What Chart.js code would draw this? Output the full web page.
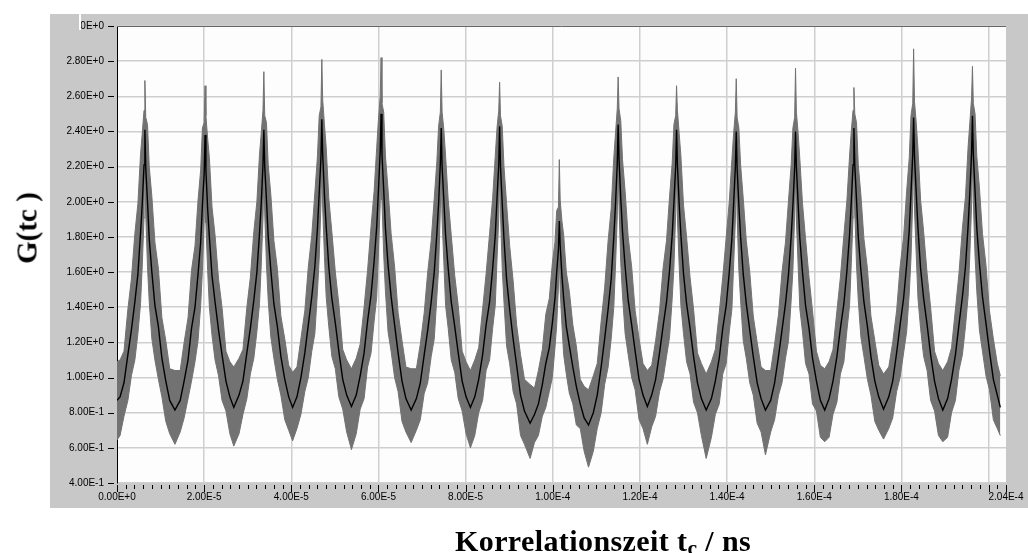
<!DOCTYPE html>
<html>
<head>
<meta charset="utf-8">
<script src="https://cdn.jsdelivr.net/npm/chart.js@4.4.1/dist/chart.umd.min.js"></script>
<style>
  html, body { margin: 0; padding: 0; background: #fff; }
  #wrap { position: relative; width: 1028px; height: 553px; overflow: hidden; }
  #korr { position: absolute; left: 0; top: 0; }
  .axis-title {
    position: absolute;
    font-family: "Liberation Serif", "Times New Roman", serif;
    font-weight: bold;
    font-size: 29px;
    line-height: 29px;
    white-space: nowrap;
    color: #000;
  }
  #title-y { left: 27px; top: 228px; transform: translate(-50%, -50%) rotate(-90deg); }
  #title-x { left: 455px; top: 526px; font-size: 30px; letter-spacing: 0.4px; }
  #title-x sub { font-size: 0.72em; vertical-align: -0.2em; line-height: 0; }
</style>
</head>
<body>
<div id="wrap">
  <canvas id="korr" width="1028" height="553"></canvas>
  <div class="axis-title" id="title-y">G(tc )</div>
  <div class="axis-title" id="title-x">Korrelationszeit t<sub>c</sub> / ns</div>
</div>
<script>
// correlation time in microseconds (tick labels are written in seconds)
const tc = [
  0.0, 0.7, 1.6, 2.5, 3.3, 4.1, 4.8, 5.4, 5.8, 6.2, 6.4, 6.6, 7.0, 7.4, 8.0, 8.7, 9.5, 10.3, 11.2, 12.1, 13.3,
  14.5, 15.4, 16.3, 17.1, 17.9, 18.6, 19.2, 19.6, 20.0, 20.2, 20.4, 20.8, 21.2, 21.8, 22.5, 23.3, 24.1, 25.0, 25.9, 26.8,
  28.0, 28.9, 29.8, 30.6, 31.4, 32.1, 32.7, 33.1, 33.5, 33.7, 33.9, 34.3, 34.7, 35.3, 36.0, 36.8, 37.6, 38.5, 39.4, 40.3,
  41.3, 42.2, 43.1, 43.9, 44.7, 45.4, 46.0, 46.4, 46.8, 47.0, 47.2, 47.6, 48.0, 48.6, 49.3, 50.1, 50.9, 51.8, 52.7, 53.8,
  54.9, 55.8, 56.7, 57.5, 58.3, 59.0, 59.6, 60.0, 60.4, 60.6, 60.8, 61.2, 61.6, 62.2, 62.9, 63.7, 64.5, 65.4, 66.3, 67.5,
  68.7, 69.6, 70.5, 71.3, 72.1, 72.8, 73.4, 73.8, 74.2, 74.4, 74.6, 75.0, 75.4, 76.0, 76.7, 77.5, 78.3, 79.2, 80.1, 81.1,
  82.1, 83.0, 83.9, 84.7, 85.5, 86.2, 86.8, 87.2, 87.6, 87.8, 88.0, 88.4, 88.8, 89.4, 90.1, 90.9, 91.7, 92.6, 93.5, 94.8,
  95.8, 96.7, 97.6, 98.4, 99.2, 99.9, 100.5, 100.9, 101.3, 101.5, 101.7, 102.1, 102.5, 103.1, 103.8, 104.6, 105.4, 106.3, 107.2, 108.2,
  109.3, 110.2, 111.1, 111.9, 112.7, 113.4, 114.0, 114.4, 114.8, 115.0, 115.2, 115.6, 116.0, 116.6, 117.3, 118.1, 118.9, 119.8, 120.7, 121.7,
  122.7, 123.6, 124.5, 125.3, 126.1, 126.8, 127.4, 127.8, 128.2, 128.4, 128.6, 129.0, 129.4, 130.0, 130.7, 131.5, 132.3, 133.2, 134.1, 135.2,
  136.4, 137.3, 138.2, 139.0, 139.8, 140.5, 141.1, 141.5, 141.9, 142.1, 142.3, 142.7, 143.1, 143.7, 144.4, 145.2, 146.0, 146.9, 147.8, 148.8,
  150.0, 150.9, 151.8, 152.6, 153.4, 154.1, 154.7, 155.1, 155.5, 155.7, 155.9, 156.3, 156.7, 157.3, 158.0, 158.8, 159.6, 160.5, 161.4, 162.4,
  163.4, 164.3, 165.2, 166.0, 166.8, 167.5, 168.1, 168.5, 168.9, 169.1, 169.3, 169.7, 170.1, 170.7, 171.4, 172.2, 173.0, 173.9, 174.8, 175.9,
  177.1, 178.0, 178.9, 179.7, 180.5, 181.2, 181.8, 182.2, 182.6, 182.8, 183.0, 183.4, 183.8, 184.4, 185.1, 185.9, 186.7, 187.6, 188.5, 189.5,
  190.6, 191.5, 192.4, 193.2, 194.0, 194.7, 195.3, 195.7, 196.1, 196.3, 196.5, 196.9, 197.3, 197.9, 198.6, 199.4, 200.2, 201.1, 202.0, 202.7
]

// averaged curve (black)
const gMean = [
  0.87, 0.89, 0.97, 1.13, 1.27, 1.43, 1.59, 1.82, 1.99, 2.21, 2.41, 2.19, 2.00, 1.79, 1.60, 1.41, 1.29, 1.11, 0.98, 0.87, 0.815,
  0.87, 0.98, 1.10, 1.28, 1.40, 1.59, 1.77, 1.98, 2.16, 2.38, 2.18, 1.96, 1.80, 1.58, 1.43, 1.27, 1.13, 0.98, 0.89, 0.83,
  0.90, 0.98, 1.14, 1.28, 1.44, 1.60, 1.82, 1.99, 2.21, 2.41, 2.20, 2.01, 1.80, 1.61, 1.42, 1.29, 1.12, 0.99, 0.89, 0.83,
  0.89, 1.00, 1.14, 1.30, 1.46, 1.63, 1.85, 2.05, 2.25, 2.47, 2.27, 2.04, 1.86, 1.63, 1.45, 1.31, 1.15, 0.99, 0.90, 0.835,
  0.90, 1.01, 1.14, 1.32, 1.47, 1.66, 1.86, 2.07, 2.29, 2.50, 2.27, 2.07, 1.85, 1.64, 1.46, 1.30, 1.14, 0.98, 0.88, 0.815,
  0.88, 0.97, 1.13, 1.27, 1.43, 1.60, 1.82, 1.99, 2.22, 2.42, 2.20, 2.01, 1.81, 1.62, 1.43, 1.29, 1.14, 0.98, 0.89, 0.83,
  0.89, 0.99, 1.13, 1.30, 1.43, 1.62, 1.81, 2.02, 2.21, 2.43, 2.20, 1.99, 1.79, 1.56, 1.39, 1.22, 1.07, 0.90, 0.81, 0.74,
  0.79, 0.85, 0.96, 1.08, 1.17, 1.31, 1.45, 1.60, 1.73, 1.89, 1.75, 1.58, 1.45, 1.29, 1.18, 1.06, 0.95, 0.85, 0.77, 0.73,
  0.80, 0.90, 1.06, 1.22, 1.39, 1.56, 1.80, 1.99, 2.22, 2.44, 2.24, 2.02, 1.83, 1.63, 1.44, 1.30, 1.15, 0.99, 0.90, 0.835,
  0.90, 0.99, 1.14, 1.29, 1.43, 1.61, 1.81, 2.00, 2.20, 2.41, 2.21, 1.99, 1.81, 1.59, 1.42, 1.28, 1.12, 0.97, 0.88, 0.815,
  0.88, 0.98, 1.11, 1.28, 1.41, 1.60, 1.79, 1.99, 2.20, 2.40, 2.19, 1.98, 1.80, 1.59, 1.42, 1.27, 1.12, 0.97, 0.88, 0.815,
  0.87, 0.97, 1.12, 1.27, 1.42, 1.59, 1.80, 1.98, 2.19, 2.40, 2.20, 1.99, 1.79, 1.60, 1.41, 1.28, 1.11, 0.98, 0.87, 0.815,
  0.88, 0.98, 1.12, 1.28, 1.42, 1.61, 1.81, 2.00, 2.21, 2.42, 2.21, 2.01, 1.80, 1.61, 1.43, 1.29, 1.12, 0.98, 0.89, 0.82,
  0.89, 0.98, 1.14, 1.30, 1.45, 1.64, 1.84, 2.05, 2.27, 2.48, 2.26, 2.05, 1.85, 1.62, 1.45, 1.30, 1.13, 0.98, 0.88, 0.815,
  0.88, 0.99, 1.13, 1.30, 1.46, 1.63, 1.86, 2.05, 2.28, 2.49, 2.27, 2.06, 1.85, 1.65, 1.46, 1.31, 1.15, 0.99, 0.90, 0.83
]

// upper edge of the raw data (grey)
const gHigh = [
  1.09, 1.10, 1.15, 1.39, 1.56, 1.82, 1.99, 2.27, 2.39, 2.52, 2.69, 2.48, 2.44, 2.20, 2.03, 1.77, 1.62, 1.34, 1.21, 1.05, 1.04,
  1.04, 1.20, 1.34, 1.61, 1.75, 2.01, 2.18, 2.42, 2.45, 2.66, 2.49, 2.36, 2.25, 1.97, 1.81, 1.56, 1.40, 1.15, 1.09, 1.06,
  1.11, 1.16, 1.40, 1.57, 1.83, 2.00, 2.27, 2.39, 2.52, 2.74, 2.49, 2.45, 2.21, 2.04, 1.78, 1.62, 1.35, 1.22, 1.07, 1.03,
  1.06, 1.22, 1.38, 1.63, 1.81, 2.05, 2.26, 2.49, 2.54, 2.81, 2.58, 2.44, 2.31, 2.02, 1.83, 1.60, 1.42, 1.16, 1.10, 1.05,
  1.11, 1.19, 1.40, 1.61, 1.86, 2.06, 2.31, 2.47, 2.60, 2.82, 2.56, 2.51, 2.26, 2.07, 1.82, 1.63, 1.37, 1.21, 1.06, 1.05,
  1.05, 1.19, 1.37, 1.60, 1.78, 2.02, 2.23, 2.43, 2.51, 2.75, 2.51, 2.41, 2.26, 2.01, 1.81, 1.58, 1.41, 1.15, 1.09, 1.04,
  1.10, 1.17, 1.39, 1.59, 1.82, 2.02, 2.26, 2.42, 2.52, 2.68, 2.49, 2.43, 2.20, 1.99, 1.75, 1.55, 1.30, 1.13, 0.99, 0.96,
  0.94, 1.04, 1.16, 1.36, 1.45, 1.65, 1.77, 1.95, 1.97, 2.24, 2.01, 1.89, 1.81, 1.60, 1.49, 1.30, 1.18, 0.99, 0.95, 0.93,
  1.01, 1.08, 1.32, 1.51, 1.78, 1.96, 2.25, 2.39, 2.53, 2.71, 2.53, 2.46, 2.24, 2.06, 1.80, 1.63, 1.38, 1.22, 1.08, 1.04,
  1.07, 1.21, 1.38, 1.62, 1.78, 2.03, 2.22, 2.44, 2.49, 2.66, 2.52, 2.39, 2.26, 1.98, 1.80, 1.57, 1.39, 1.14, 1.08, 1.02,
  1.09, 1.16, 1.37, 1.57, 1.80, 2.00, 2.24, 2.39, 2.51, 2.70, 2.48, 2.42, 2.21, 2.02, 1.78, 1.60, 1.35, 1.20, 1.06, 1.04,
  1.04, 1.19, 1.36, 1.60, 1.77, 2.01, 2.21, 2.42, 2.48, 2.76, 2.51, 2.39, 2.24, 1.99, 1.79, 1.57, 1.38, 1.15, 1.07, 1.05,
  1.09, 1.16, 1.38, 1.57, 1.81, 2.01, 2.26, 2.40, 2.52, 2.65, 2.50, 2.45, 2.21, 2.04, 1.79, 1.62, 1.35, 1.21, 1.07, 1.02,
  1.06, 1.20, 1.38, 1.63, 1.80, 2.06, 2.25, 2.49, 2.56, 2.87, 2.57, 2.45, 2.30, 2.01, 1.83, 1.59, 1.40, 1.15, 1.08, 1.04,
  1.09, 1.17, 1.39, 1.59, 1.85, 2.03, 2.31, 2.45, 2.59, 2.77, 2.56, 2.50, 2.26, 2.08, 1.82, 1.64, 1.38, 1.22, 1.08, 1.01
]

// lower edge of the raw data (grey)
const gLow = [
  0.645, 0.67, 0.78, 0.87, 1.01, 1.10, 1.25, 1.42, 1.64, 1.91, 2.17, 1.93, 1.63, 1.43, 1.22, 1.10, 0.99, 0.89, 0.75, 0.68, 0.62,
  0.69, 0.77, 0.88, 0.98, 1.09, 1.21, 1.41, 1.61, 1.90, 2.14, 1.88, 1.61, 1.40, 1.24, 1.10, 1.01, 0.87, 0.81, 0.68, 0.61,
  0.68, 0.79, 0.88, 1.02, 1.11, 1.26, 1.42, 1.64, 1.91, 2.17, 1.94, 1.64, 1.44, 1.23, 1.11, 0.99, 0.90, 0.76, 0.70, 0.64,
  0.71, 0.79, 0.92, 1.00, 1.15, 1.25, 1.49, 1.68, 1.99, 2.23, 1.97, 1.69, 1.46, 1.29, 1.12, 1.05, 0.89, 0.82, 0.69, 0.59,
  0.68, 0.82, 0.88, 1.06, 1.14, 1.32, 1.46, 1.72, 1.99, 2.26, 2.01, 1.70, 1.49, 1.26, 1.15, 1.00, 0.92, 0.75, 0.69, 0.63,
  0.70, 0.76, 0.91, 0.97, 1.12, 1.22, 1.46, 1.62, 1.96, 2.18, 1.90, 1.66, 1.41, 1.28, 1.10, 1.03, 0.88, 0.81, 0.68, 0.60,
  0.67, 0.80, 0.87, 1.04, 1.10, 1.28, 1.41, 1.67, 1.91, 2.19, 1.94, 1.62, 1.43, 1.18, 1.08, 0.92, 0.85, 0.67, 0.62, 0.54,
  0.63, 0.67, 0.78, 0.83, 0.92, 1.00, 1.17, 1.30, 1.52, 1.69, 1.50, 1.30, 1.13, 1.02, 0.91, 0.85, 0.73, 0.71, 0.58, 0.49,
  0.58, 0.71, 0.80, 0.96, 1.06, 1.22, 1.40, 1.64, 1.92, 2.20, 1.98, 1.65, 1.47, 1.25, 1.13, 1.00, 0.93, 0.76, 0.71, 0.62,
  0.72, 0.78, 0.92, 0.99, 1.12, 1.23, 1.45, 1.63, 1.94, 2.17, 1.91, 1.64, 1.41, 1.25, 1.09, 1.02, 0.86, 0.80, 0.67, 0.54,
  0.66, 0.79, 0.85, 1.02, 1.08, 1.26, 1.39, 1.64, 1.90, 2.16, 1.93, 1.61, 1.44, 1.21, 1.11, 0.97, 0.90, 0.74, 0.69, 0.56,
  0.69, 0.76, 0.90, 0.97, 1.11, 1.21, 1.44, 1.61, 1.93, 2.16, 1.90, 1.64, 1.39, 1.26, 1.08, 1.02, 0.85, 0.81, 0.66, 0.635,
  0.66, 0.79, 0.86, 1.02, 1.09, 1.27, 1.41, 1.65, 1.91, 2.18, 1.95, 1.64, 1.44, 1.23, 1.12, 0.99, 0.90, 0.75, 0.70, 0.65,
  0.71, 0.77, 0.92, 1.00, 1.14, 1.26, 1.48, 1.68, 2.01, 2.24, 1.96, 1.70, 1.45, 1.28, 1.12, 1.04, 0.87, 0.81, 0.67, 0.635,
  0.66, 0.80, 0.87, 1.04, 1.13, 1.29, 1.46, 1.70, 1.98, 2.25, 2.01, 1.69, 1.49, 1.27, 1.15, 1.01, 0.93, 0.76, 0.71, 0.67
]

const xLabelValues = [0, 20, 40, 60, 80, 100, 120, 140, 160, 180, 204]
const xLabels = ['0.00E+0', '2.00E-5', '4.00E-5', '6.00E-5', '8.00E-5', '1.00E-4', '1.20E-4', '1.40E-4', '1.60E-4', '1.80E-4', '2.04E-4']
const yTickValues = [0.4, 0.6, 0.8, 1.0, 1.2, 1.4, 1.6, 1.8, 2.0, 2.2, 2.4, 2.6, 2.8, 3.0]
const yLabels = ['4.00E-1', '6.00E-1', '8.00E-1', '1.00E+0', '1.20E+0', '1.40E+0', '1.60E+0', '1.80E+0', '2.00E+0', '2.20E+0', '2.40E+0', '2.60E+0', '2.80E+0', '3.00E+0']

const panelGray = '#c8c8c8'
const bandGray = '#727272'
const gridGray = '#cfcfcf'
const tickFont = { family: 'Liberation Sans', size: 10 }

const points = (ys) => tc.map((t, i) => ({ x: t, y: ys[i] }))

//--------------------------------------------------------------------------

const panel = {
  id: 'panel',
  beforeDraw: (chart) => {
    const { ctx, chartArea } = chart
    ctx.save()
    ctx.fillStyle = '#fff'
    ctx.fillRect(0, 0, chart.width, chart.height)
    ctx.fillStyle = panelGray
    ctx.fillRect(50, 14, chart.width - 50, 494)
    ctx.fillStyle = '#fdfdfd'
    ctx.fillRect(chartArea.left, chartArea.top, chartArea.right - chartArea.left, chartArea.bottom - chartArea.top)
    ctx.restore()
  },
  afterDraw: (chart) => {
    const { ctx, chartArea, scales } = chart
    ctx.save()
    ctx.strokeStyle = '#000'
    ctx.lineWidth = 1
    ctx.beginPath()
    for (let v = 0; v <= 204; v += 2) {
      const x = Math.round(scales.x.getPixelForValue(v)) + 0.5
      const major = v % 20 === 0 || v === 204
      ctx.moveTo(x, chartArea.bottom + 2)
      ctx.lineTo(x, chartArea.bottom + (major ? 9 : 6))
    }
    yTickValues.forEach((v) => {
      const y = Math.round(scales.y.getPixelForValue(v)) + 0.5
      ctx.moveTo(chartArea.left - 9, y)
      ctx.lineTo(chartArea.left - 3, y)
    })
    ctx.stroke()

    ctx.strokeStyle = '#666'
    ctx.beginPath()
    ctx.moveTo(chartArea.left, chartArea.top + 0.5)
    ctx.lineTo(chartArea.right, chartArea.top + 0.5)
    ctx.stroke()

    // top label is partly hidden in the original screenshot
    ctx.fillStyle = panelGray
    ctx.fillRect(50, 14, 29, 18)
    ctx.fillStyle = '#fff'
    ctx.fillRect(79, 14, 2, 16)
    ctx.restore()
  }
}

new Chart(document.getElementById('korr'), {
  type: 'line',
  data: {
    datasets: [
      {
        label: 'G(tc) Mittel',
        data: points(gMean),
        borderColor: '#000',
        borderWidth: 1.4,
        pointRadius: 0,
        fill: false
      },
      {
        label: 'G(tc) max',
        data: points(gHigh),
        borderColor: bandGray,
        backgroundColor: bandGray,
        borderWidth: 1,
        pointRadius: 0,
        fill: '+1'
      },
      {
        label: 'G(tc) min',
        data: points(gLow),
        borderColor: bandGray,
        borderWidth: 1,
        pointRadius: 0,
        fill: false
      }
    ]
  },
  options: {
    responsive: false,
    animation: false,
    devicePixelRatio: 1,
    layout: { padding: { left: 50, top: 26, right: 22, bottom: 45 } },
    plugins: {
      legend: { display: false },
      tooltip: { enabled: false }
    },
    scales: {
      x: {
        type: 'linear',
        min: 0,
        max: 204,
        afterBuildTicks: (scale) => {
          const ticks = []
          for (let v = 0; v <= 204; v += 2) ticks.push({ value: v })
          scale.ticks = ticks
        },
        afterFit: (scale) => {
          scale.height = 25
          scale.paddingLeft = 0
          scale.paddingRight = 0
        },
        ticks: {
          autoSkip: false,
          maxRotation: 0,
          minRotation: 0,
          padding: 8,
          color: '#000',
          font: tickFont,
          callback: (v) => {
            const i = xLabelValues.indexOf(v)
            return i < 0 ? '' : xLabels[i]
          }
        },
        grid: {
          drawTicks: false,
          lineWidth: 1.5,
          color: (c) => (c.tick && c.tick.value % 20 === 0 && c.tick.value > 0) ? gridGray : 'rgba(0,0,0,0)'
        },
        border: { display: false }
      },
      y: {
        min: 0.4,
        max: 3.0,
        afterBuildTicks: (scale) => {
          scale.ticks = yTickValues.map((v) => ({ value: v }))
        },
        afterFit: (scale) => {
          scale.width = 67
          scale.paddingTop = 0
          scale.paddingBottom = 0
        },
        ticks: {
          padding: 13,
          color: '#000',
          font: tickFont,
          callback: (v, i) => yLabels[i]
        },
        grid: {
          drawTicks: false,
          lineWidth: 1.5,
          color: gridGray
        },
        border: { display: true, color: '#000', width: 1 }
      }
    }
  },
  plugins: [panel]
})
</script>
</body>
</html>
